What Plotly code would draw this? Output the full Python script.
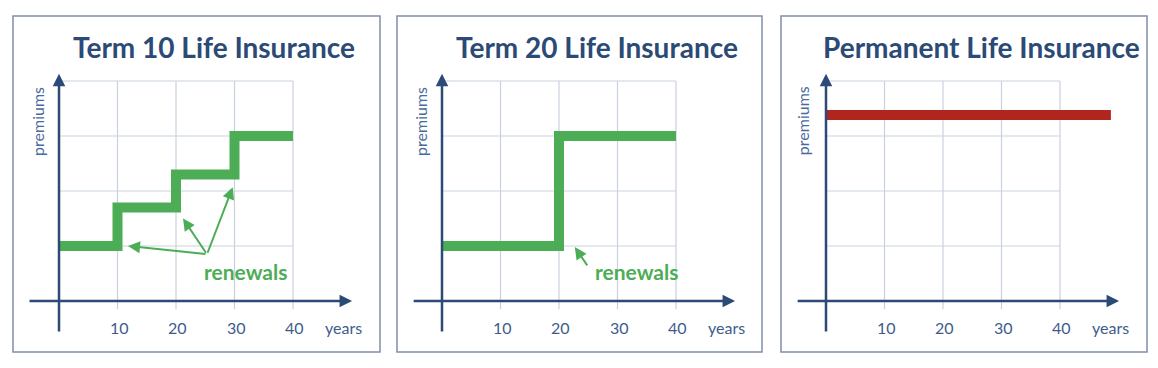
import plotly.graph_objects as go

# ---------------- data ----------------
titles = ["Term 10 Life Insurance", "Term 20 Life Insurance", "Permanent Life Insurance"]
year_ticks = [10, 20, 30, 40]
grid_levels = [1, 2, 3, 4]

term10_years = [0, 10, 20, 30, 40]
term10_premiums = [1.0, 1.7, 2.3, 3.0, 3.0]

term20_years = [0, 20, 40]
term20_premiums = [1.0, 3.0, 3.0]

perm_years = [0, 48.7]
perm_premiums = [3.38, 3.38]

# renewal arrows: (tail_x, tail_y, head_x, head_y)
term10_arrows = [(25.3, 0.85, 11.8, 1.0), (25.3, 0.85, 21.2, 1.5), (25.3, 0.85, 29.7, 2.07)]
term20_arrows = [(25.0, 0.62, 22.7, 0.98)]
renewals_label_pos = [(31.8, 0.53), (33.3, 0.53)]

# ---------------- layout constants ----------------
W, H = 1158, 368
panels_px = [(13, 380), (397, 762), (781, 1147)]   # panel box left/right px
origin_px = [59, 442, 826]                         # x px of y-axis
box_top, box_bot = 16, 352
origin_y = 301
px_per_year = 5.85
px_per_unit = 55.0

TITLE_C = "#2B4A76"
AXIS_C = "#2C4A78"
TICK_C = "#3D5C8C"
LABEL_C = "#4A6A9E"
GRID_C = "#C9D1E0"
BORDER_C = "#7F90AA"
GREEN = "#4DAD57"
RED = "#B0261E"
FONT = "Lato, 'Open Sans', sans-serif"

fig = go.Figure()

series = [(term10_years, term10_premiums, GREEN),
          (term20_years, term20_premiums, GREEN),
          (perm_years, perm_premiums, RED)]

shapes, annotations = [], []
for i in range(3):
    n = "" if i == 0 else str(i + 1)
    xa, ya = "x" + n, "y" + n
    left, right = panels_px[i]
    ox = origin_px[i]
    xr = [(left - ox) / px_per_year, (right - ox) / px_per_year]
    yr = [(origin_y - box_bot) / px_per_unit, (origin_y - box_top) / px_per_unit]
    axis_common = dict(showgrid=False, zeroline=False, showticklabels=False, showline=False,
                       fixedrange=True)
    fig.layout["xaxis" + n] = dict(domain=[left / W, right / W], range=xr, anchor=ya, **axis_common)
    fig.layout["yaxis" + n] = dict(domain=[(H - box_bot) / H, (H - box_top) / H], range=yr,
                                   anchor=xa, **axis_common)

    # border box
    shapes.append(dict(type="rect", xref=xa + " domain", yref=ya + " domain", x0=0, x1=1, y0=0, y1=1,
                       line=dict(color=BORDER_C, width=1.5), fillcolor="rgba(0,0,0,0)", layer="below"))
    # grid
    for t in year_ticks:
        shapes.append(dict(type="line", xref=xa, yref=ya, x0=t, x1=t, y0=-0.15, y1=max(grid_levels),
                           line=dict(color=GRID_C, width=1.2), layer="below"))
    for g in grid_levels:
        shapes.append(dict(type="line", xref=xa, yref=ya, x0=0, x1=max(year_ticks), y0=g, y1=g,
                           line=dict(color=GRID_C, width=1.2), layer="below"))

    # data line
    xs, ys, col = series[i]
    fig.add_trace(go.Scatter(x=xs, y=ys, mode="lines", line=dict(color=col, width=10, shape="hv"),
                             xaxis=xa, yaxis=ya, showlegend=False, hoverinfo="skip"))

    # axes with arrows
    x_start = -5.3 if i == 0 else -5.1
    annotations.append(dict(x=50.1, y=0, ax=x_start, ay=0, xref=xa, yref=ya, axref=xa, ayref=ya,
                            text="", showarrow=True, arrowhead=2, arrowsize=1.0, arrowwidth=2.5,
                            arrowcolor=AXIS_C))
    annotations.append(dict(x=0, y=4.13, ax=0, ay=-0.58, xref=xa, yref=ya, axref=xa, ayref=ya,
                            text="", showarrow=True, arrowhead=2, arrowsize=1.0, arrowwidth=2.5,
                            arrowcolor=AXIS_C))
    # tick labels
    for t in year_ticks:
        annotations.append(dict(x=t + 0.3, y=-0.49, xref=xa, yref=ya, text=str(t), showarrow=False,
                                font=dict(family=FONT, size=16, color=TICK_C)))
    annotations.append(dict(x=48.6, y=-0.49, xref=xa, yref=ya, text="years", showarrow=False,
                            font=dict(family=FONT, size=16, color=TICK_C)))
    annotations.append(dict(x=-3.8 if i < 2 else -4.1, y=3.27, xref=xa, yref=ya, text="premiums",
                            showarrow=False, textangle=-90,
                            font=dict(family=FONT, size=16, color=LABEL_C)))
    # title
    annotations.append(dict(x=0.548, y=0.908, xref=xa + " domain", yref=ya + " domain",
                            xanchor="center", yanchor="middle",
                            text="<b>" + titles[i] + "</b>", showarrow=False,
                            font=dict(family=FONT, size=28, color=TITLE_C)))

# renewal arrows & labels
for (arrows, n, lp) in [(term10_arrows, "", renewals_label_pos[0]),
                        (term20_arrows, "2", renewals_label_pos[1])]:
    for (tx, ty, hx, hy) in arrows:
        annotations.append(dict(x=hx, y=hy, ax=tx, ay=ty, xref="x" + n, yref="y" + n,
                                axref="x" + n, ayref="y" + n, text="", showarrow=True,
                                arrowhead=2, arrowsize=1.2, arrowwidth=2, arrowcolor=GREEN))
    annotations.append(dict(x=lp[0], y=lp[1], xref="x" + n, yref="y" + n, text="<b>renewals</b>",
                            showarrow=False, font=dict(family=FONT, size=21, color=GREEN)))

fig.update_layout(width=W, height=H, margin=dict(l=0, r=0, t=0, b=0),
                  paper_bgcolor="white", plot_bgcolor="rgba(0,0,0,0)",
                  shapes=shapes, annotations=annotations, showlegend=False)

fig.write_html("out.html", config={"displayModeBar": False},
               post_script="document.body.style.margin='0px';document.body.style.overflow='hidden';")
